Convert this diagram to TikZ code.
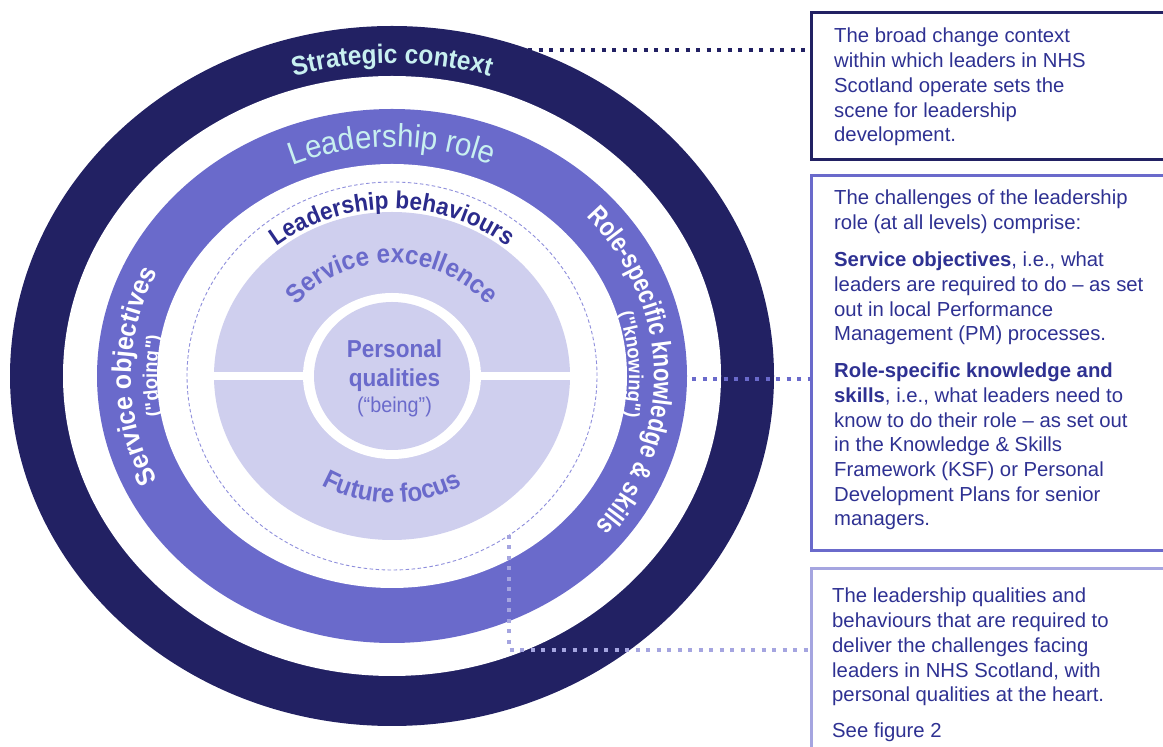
\documentclass[tikz,border=0pt]{standalone}
\usepackage{fontspec}
\setmainfont{Liberation Sans}
\newfontfamily\ringA[FakeStretch=0.92]{Liberation Sans}
\newfontfamily\ringB[FakeStretch=0.82]{Liberation Sans}
\usetikzlibrary{decorations.text}
\definecolor{navy}{HTML}{222163}
\definecolor{mid}{HTML}{6A6ACB}
\definecolor{pale}{HTML}{CFCFEE}
\definecolor{lilac}{HTML}{A5A5E0}
\definecolor{cyantext}{HTML}{C8F0F0}
\definecolor{behav}{HTML}{2B2B8C}
\definecolor{boxtext}{HTML}{2E3192}
\definecolor{dashline}{HTML}{8E8EDC}
\newcommand\fsz[1]{\fontsize{#1}{#1}\selectfont}
\begin{document}
\begin{tikzpicture}[x=1pt,y=1pt,
  dotconn/.style={line width=4pt, dash pattern=on 4pt off 6.5pt},
  boxframe/.style={line width=3pt, minimum width=420pt, anchor=north west, inner sep=0pt},
  boxtxt/.style={anchor=base west, align=left, inner sep=0pt, text=boxtext,
    font=\fontsize{20.3}{24.7}\selectfont},
  coretxt/.style={anchor=base, inner sep=0pt, text=mid},
  ringtext/.style={decorate, decoration={text along path, text align=center, text={#1}}}
]
\useasboundingbox (0,0) rectangle (1163,747);
\coordinate (C) at (392,371);

% concentric rings
\begin{scope}[shift={(C)}]
  \fill[navy]  (0,0) ellipse[x radius=382, y radius=350];
  \fill[white] (0,0) ellipse[x radius=329, y radius=300];
  \fill[mid]   (0,0) ellipse[x radius=295, y radius=267];
  \fill[white] (0,0) ellipse[x radius=235, y radius=212];
  \draw[dashline, line width=0.9pt, dash pattern=on 3.5pt off 2.5pt]
        (0,0) ellipse[x radius=205, y radius=194];
  \fill[pale]  (0,0) ellipse[x radius=178, y radius=164];
  \fill[white] (-180,-4) rectangle (180,4);
  \fill[white] (0,0) ellipse[x radius=89, y radius=83];
  \fill[pale]  (0,0) ellipse[x radius=78, y radius=74];

  % curved ring labels
  \path[ringtext={|\ringA\bfseries\fsz{26.6}\color{cyantext}|Strategic context}]
    (125:342 and 313) arc[start angle=125, end angle=55, x radius=342, y radius=313];
  \path[ringtext={|\ringA\fsz{32}\color{cyantext}|Leadership role}]
    (140:254 and 229) arc[start angle=140, end angle=40, x radius=254, y radius=229];
  \path[ringtext={|\ringA\bfseries\fsz{24.5}\color{behav}|Leadership behaviours}]
    (150:183 and 167) arc[start angle=150, end angle=30, x radius=183, y radius=167];
  \path[ringtext={|\ringA\bfseries\fsz{26.3}\color{mid}|Service excellence}]
    (160:122 and 113) arc[start angle=160, end angle=20, x radius=122, y radius=113];
  \path[ringtext={|\ringA\bfseries\fsz{26.3}\color{mid}|Future focus}]
    (220:137 and 127) arc[start angle=220, end angle=320, x radius=137, y radius=127];
  \path[ringtext={|\ringA\bfseries\fsz{27}\color{white}|Service objectives}]
    (240:261 and 237) arc[start angle=240, end angle=120, x radius=261, y radius=237];
  \path[ringtext={|\ringA\bfseries\fsz{20}\color{white}|("doing")}]
    (215:235 and 213) arc[start angle=215, end angle=145, x radius=235, y radius=213];
  \path[ringtext={|\ringB\bfseries\fsz{27}\color{white}|Role-specific knowledge {\&} skills}]
    (61.5:262 and 237) arc[start angle=61.5, end angle=-58.5, x radius=262, y radius=237];
  \path[ringtext={|\ringA\bfseries\fsz{20}\color{white}|("knowing")}]
    (30:237 and 214) arc[start angle=30, end angle=-24, x radius=237, y radius=214];
\end{scope}

% core label
\node[coretxt, font=\ringA\bfseries\fsz{24.5}] (pq1) at (394.5,389) {Personal};
\node[coretxt, font=\ringA\bfseries\fsz{24.5}] (pq2) at (394.5,360) {qualities};
\node[coretxt, font=\ringA\fsz{21.5}] (pq3) at (394.5,334) {(“being”)};

% explanation boxes
\node[boxframe, draw=navy, minimum height=146.7pt] (ctxbox) at (810,736) {};
\node[boxframe, draw=mid, minimum height=374.7pt] (rolebox) at (810,572.7) {};
\node[boxframe, draw=lilac, minimum height=300pt] (qualbox) at (810,179.7) {};

% text blocks, each placed by the baseline of its last line
\node[boxtxt] (ctxtxt) at (834,605.2) {The broad change context\\within which leaders in NHS\\Scotland operate sets the\\scene for leadership\\development.};
\node[boxtxt] (roletxt) at (834,221) {The challenges of the leadership\\role (at all levels) comprise:\\[12.3pt]\textbf{Service objectives}, i.e., what\\leaders are required to do – as set\\out in local Performance\\Management (PM) processes.\\[12.3pt]\textbf{Role-specific knowledge and}\\\textbf{skills}, i.e., what leaders need to\\know to do their role – as set out\\in the Knowledge \& Skills\\Framework (KSF) or Personal\\Development Plans for senior\\managers.};
\node[boxtxt] (qualtxt) at (832,9.2) {The leadership qualities and\\behaviours that are required to\\deliver the challenges facing\\leaders in NHS Scotland, with\\personal qualities at the heart.\\[11.3pt]See figure 2};

% dotted leaders from the rings to the boxes
\coordinate (ctxpt) at (528,697);
\coordinate (rolept) at (692,368);
\coordinate (behavpt) at (509,212);
\coordinate (behavturn) at (509,97);
\draw[dotconn, navy] (ctxpt) -- (ctxpt -| ctxbox.west);
\draw[dotconn, mid] (rolept) -- (rolept -| rolebox.west);
\draw[dotconn, lilac] (behavpt) -- (behavturn) -- (behavturn -| qualbox.west);
\end{tikzpicture}
\end{document}
